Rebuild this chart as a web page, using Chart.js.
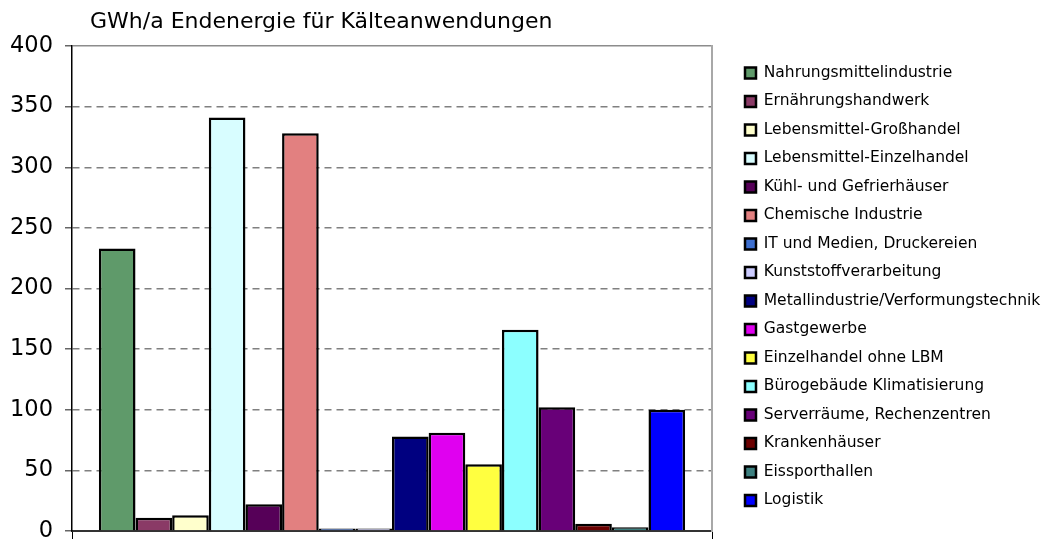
<!DOCTYPE html>
<html>
<head>
<meta charset="utf-8">
<script src="https://cdn.jsdelivr.net/npm/chart.js@4.4.0/dist/chart.umd.min.js"></script>
<style>
  body { margin: 0; background: #fff; }
  #myChart { display: block; }
</style>
</head>
<body>
<canvas id="myChart" width="1049" height="539"></canvas>
<script>
// one category, each sector is its own dataset
var categories = [''];
var sectors = ['Nahrungsmittelindustrie', 'Ernährungshandwerk', 'Lebensmittel-Großhandel',
  'Lebensmittel-Einzelhandel', 'Kühl- und Gefrierhäuser', 'Chemische Industrie',
  'IT und Medien, Druckereien', 'Kunststoffverarbeitung', 'Metallindustrie/Verformungstechnik',
  'Gastgewerbe', 'Einzelhandel ohne LBM', 'Bürogebäude Klimatisierung',
  'Serverräume, Rechenzentren', 'Krankenhäuser', 'Eissporthallen', 'Logistik'];
var values = [233, 11, 13, 341, 22, 328, 2, 2, 78, 81, 55, 166, 102, 6, 3, 100];
var colors = ['#5f9a6a', '#8a3a66', '#ffffcc', '#d8fdff', '#560058', '#e28080', '#3d6fcf', '#ccccff',
  '#000080', '#e000f0', '#ffff40', '#8cffff', '#680078', '#6b0000', '#3d8080', '#0000ff'];
var yMin = 0;
var yMax = 400;
var yStep = 50;
var chartTitle = 'GWh/a Endenergie für Kälteanwendungen';

var font = 'DejaVu Sans';

function buildDatasets() {
  var sets = [];
  for (i = 0; i < sectors.length; i++) {
    sets.push({
      label: sectors[i],
      data: [values[i]],
      backgroundColor: colors[i],
      borderColor: '#000',
      borderWidth: 2.5
    });
  }
  return sets;
}

// title sits a bit right of the y axis, drawn by hand
var titlePlugin = {
  id: 'titleText',
  afterDraw: function(chart) {
    var ctx = chart.ctx;
    ctx.save();
    ctx.font = '22px "' + font + '"';
    ctx.fillStyle = '#000';
    ctx.textBaseline = 'middle';
    ctx.fillText(chartTitle, chart.chartArea.left + 18, 22);
    ctx.restore();
  }
};

var ctx = document.getElementById('myChart');

var chart = new Chart(ctx, {
  type: 'bar',
  data: {
    labels: categories,
    datasets: buildDatasets()
  },
  plugins: [titlePlugin],
  options: {
    responsive: false,
    animation: false,
    layout: { autoPadding: false, padding: { top: 46, left: 0, right: 0, bottom: 0 } },
    datasets: {
      bar: { categoryPercentage: 0.916, barPercentage: 1 }
    },
    scales: {
      x: {
        afterFit: function(scale) { scale.height = 8; },
        grid: { offset: true, drawOnChartArea: false, drawTicks: true, tickLength: 8, tickColor: '#000', lineWidth: 1 },
        border: { color: '#333', width: 2 },
        ticks: { display: false }
      },
      y: {
        min: yMin,
        max: yMax,
        afterFit: function(scale) {
          scale.width = 72;
          // tick padding would otherwise lift the bottom of the plot
          scale.paddingTop = 0;
          scale.paddingBottom = 0;
        },
        ticks: {
          stepSize: yStep,
          color: '#000',
          padding: 12,
          font: { family: font, size: 22.5 }
        },
        grid: {
          color: function(c) { return c.tick && c.tick.value === yMax ? '#8c8c8c' : '#808080'; },
          lineWidth: 1.5,
          tickLength: 7,
          tickColor: '#666'
        },
        border: {
          color: '#000',
          width: 1.5,
          dash: function(c) { return c.tick && c.tick.value === yMax ? [] : [7, 5]; }
        }
      },
      y2: {
        position: 'right',
        min: yMin,
        max: yMax,
        afterFit: function(scale) { scale.width = 20; },
        ticks: { display: false },
        grid: { drawOnChartArea: false, drawTicks: false },
        border: { color: '#a8a8a8', width: 2 }
      }
    },
    plugins: {
      tooltip: { enabled: false },
      title: { display: false },
      legend: {
        position: 'right',
        align: 'start',
        maxWidth: 317,
        title: { display: true, text: ' ', font: { size: 1 }, padding: { top: 5, bottom: 0 } },
        labels: {
          color: '#000',
          boxWidth: 11,
          boxHeight: 11,
          padding: 13,
          font: { family: font, size: 15.5 }
        }
      }
    }
  }
});
</script>
</body>
</html>
